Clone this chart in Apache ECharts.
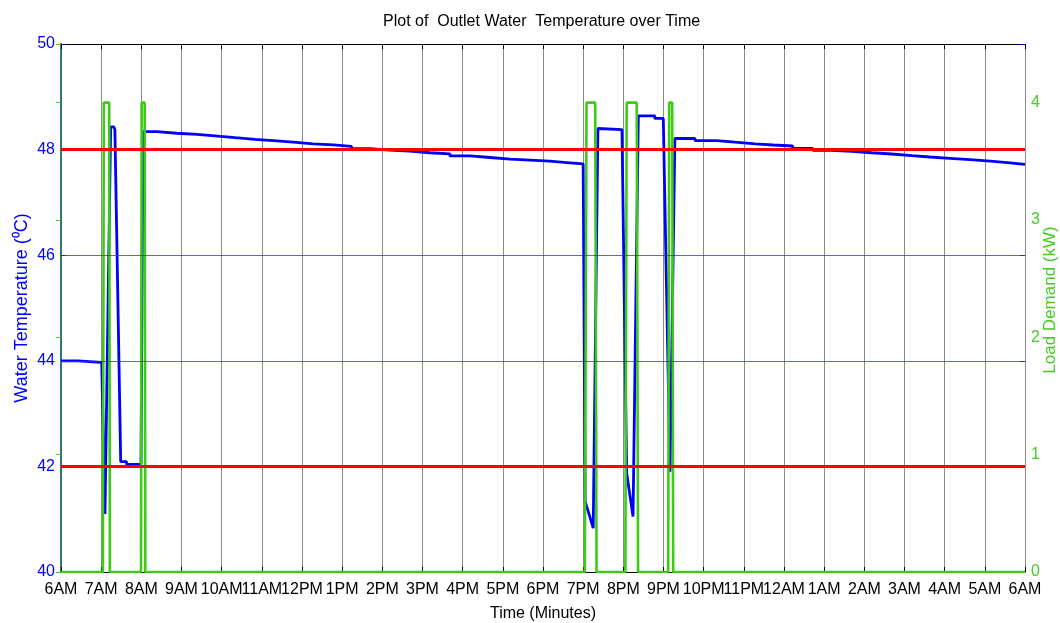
<!DOCTYPE html>
<html>
<head>
<meta charset="utf-8">
<script src="https://cdn.jsdelivr.net/npm/echarts@6/dist/echarts.min.js"></script>
<style>html,body{margin:0;padding:0;background:#fff;overflow:hidden;width:1060px;height:623px}#c{width:1060px;height:623px;display:block}</style>
</head>
<body>
<div id="c"></div>
<script>
// Tick labels (one per hour, minutes from 6AM)
const hourLabels = ['6AM','7AM','8AM','9AM','10AM','11AM','12PM','1PM','2PM','3PM','4PM','5PM','6PM','7PM','8PM','9PM','10PM','11PM','12AM','1AM','2AM','3AM','4AM','5AM','6AM'];

// Outlet water temperature (°C) vs time (minutes after 6AM)
const tempTime = [0,25,25,60.8,65.7,74.2,79,80.5,89.2,98,98,119.5,122.5,
  143,143,173,173,203,203,230,230,260,260,290,290,317,317,347,347,377,377,407,407,434,434,462,462,491,491,521,521,551,551,581,581,611,611,641,641,671,671,701,701,730,730,760,760,780,
  783,787,795,802,838,839.5,845,854.5,862.4,887,887,899.7,909.7,917,
  947,947,979,979,1007,1007,1037,1037,1064,1064,1093,1093,1123,1123,1151,1151,1181,1181,1211,1211,1241,1241,1271,1271,1298,1298,1328,1328,1358,1358,1388,1388,1418,1418,1440];
const tempValue = [44.0,44.0,43.97,43.97,41.1,48.43,48.43,48.38,42.09,42.09,42.04,42.04,48.34,
  48.34,48.31,48.31,48.29,48.29,48.26,48.26,48.225,48.225,48.195,48.195,48.17,48.17,48.14,48.14,48.11,48.11,48.09,48.09,48.06,48.06,48.02,48.02,47.99,47.99,47.97,47.97,47.94,47.94,47.92,47.92,47.88,47.88,47.85,47.85,47.82,47.82,47.80,47.80,47.78,47.78,47.75,47.75,47.73,47.73,
  41.33,41.17,40.83,48.40,48.38,48.35,41.87,41.05,48.64,48.64,48.59,48.59,41.9,48.21,
  48.21,48.17,48.17,48.14,48.14,48.11,48.11,48.087,48.087,48.068,48.068,48.025,48.025,47.987,47.987,47.968,47.968,47.94,47.94,47.917,47.917,47.884,47.884,47.86,47.86,47.835,47.835,47.81,47.81,47.78,47.78,47.75,47.75,47.72,47.72];

// Load demand (kW) vs time (minutes after 6AM)
const loadTime  = [0,62.5,64,72,73,119.5,120.5,125,126,782.5,785,798,800,843,845,860,862,907,908.5,913,914.5,1440];
const loadValue = [0,0,4,4,0,0,4,4,0,0,4,4,0,0,4,4,0,0,4,4,0,0];

// Temperature limits (°C) and reference levels (°C)
const limits = [48, 42];
const levels = [46, 44];

const tempData = tempTime.map((t, i) => [t, tempValue[i]]);
const loadData = loadTime.map((t, i) => [t, loadValue[i]]);

const FONT = 'Liberation Sans, Arial, sans-serif';
const chart = echarts.init(document.getElementById('c'), null, {renderer: 'canvas', width: 1060, height: 623});
chart.setOption({
  animation: false,
  backgroundColor: '#ffffff',
  title: {
    text: 'Plot of  Outlet Water  Temperature over Time',
    left: 378, top: 9,
    textStyle: {fontFamily: FONT, fontSize: 16, fontWeight: 'normal', color: '#000'}
  },
  grid: {left: 61, right: 35, top: 44, bottom: 51, containLabel: false, outerBoundsMode: 'none'},
  xAxis: [{
    type: 'value', min: 0, max: 1440, interval: 60, position: 'bottom',
    name: 'Time (Minutes)', nameLocation: 'middle', nameGap: 34,
    nameTextStyle: {fontFamily: FONT, fontSize: 16, color: '#000'},
    axisLine: {show: true, onZero: false, lineStyle: {color: '#000', width: 1}},
    axisTick: {show: true, inside: true, length: 5, lineStyle: {color: '#000'}},
    axisLabel: {fontFamily: FONT, fontSize: 16, color: '#000', margin: 10,
      formatter: v => hourLabels[Math.round(v / 60)] || ''},
    splitLine: {show: true, lineStyle: {color: '#8c8c8c', width: 1}}
  }, {
    type: 'value', min: 0, max: 1440, interval: 60, position: 'top',
    axisLine: {show: true, onZero: false, lineStyle: {color: '#000', width: 1}},
    axisTick: {show: true, inside: true, length: 5, lineStyle: {color: '#000'}},
    axisLabel: {show: false}, splitLine: {show: false}
  }],
  yAxis: [{
    type: 'value', min: 40, max: 50, interval: 2, position: 'left',
    name: 'Water Temperature (\u2070C)', nameLocation: 'middle', nameGap: 30, nameRotate: 90,
    nameMoveOverlap: false,
    nameTextStyle: {fontFamily: FONT, fontSize: 18, color: '#0000ff'},
    axisLine: {show: true, lineStyle: {color: '#0000ff', width: 1.5}},
    axisTick: {show: true, inside: true, length: 5, lineStyle: {color: '#0000ff'}},
    axisLabel: {fontFamily: FONT, fontSize: 16, color: '#0000ff', margin: 6},
    splitLine: {show: false}
  }, {
    type: 'value', min: 0, max: 4.5, interval: 1, position: 'right',
    name: 'Load Demand (kW)', nameLocation: 'middle', nameGap: 17, nameRotate: 90,
    nameMoveOverlap: false,
    nameTextStyle: {fontFamily: FONT, fontSize: 17, color: '#44cc22', padding: [0, 0, 0, 16]},
    axisLine: {show: true, lineStyle: {color: '#2e7777', width: 2}},
    axisTick: {show: true, inside: true, length: 5, lineStyle: {color: '#44cc22'}},
    axisLabel: {fontFamily: FONT, fontSize: 16, color: '#44cc22', margin: 6,
      formatter: v => (Math.abs(v - Math.round(v)) < 1e-6 ? String(v) : '')},
    splitLine: {show: false}
  }, {
    type: 'value', min: 40, max: 50, interval: 2, position: 'right',
    axisLine: {show: false},
    axisTick: {show: true, inside: true, length: 5, lineStyle: {color: '#0000ff'}},
    axisLabel: {show: false}, splitLine: {show: false}
  }],
  series: [{
    name: 'Levels', type: 'line', xAxisIndex: 0, yAxisIndex: 0,
    data: [], z: 1,
    markLine: {
      silent: true, symbol: 'none', label: {show: false},
      lineStyle: {color: '#2a2aff', width: 1, opacity: 0.75, type: 'solid'},
      data: levels.map(v => ({yAxis: v}))
    }
  }, {
    name: 'Temperature', type: 'line', xAxisIndex: 0, yAxisIndex: 0,
    data: tempData, showSymbol: false, symbol: 'none', z: 2,
    lineStyle: {color: '#0000ff', width: 2.8}
  }, {
    name: 'Limits', type: 'line', xAxisIndex: 0, yAxisIndex: 0,
    data: [], z: 3,
    markLine: {
      silent: true, symbol: 'none', label: {show: false},
      lineStyle: {color: '#ff0000', width: 3, type: 'solid'},
      data: limits.map(v => ({yAxis: v}))
    }
  }, {
    name: 'Load', type: 'line', xAxisIndex: 0, yAxisIndex: 1,
    data: loadData, showSymbol: false, symbol: 'none', z: 4,
    lineStyle: {color: '#3ccc14', width: 2.6}
  }]
});
</script>
</body>
</html>
